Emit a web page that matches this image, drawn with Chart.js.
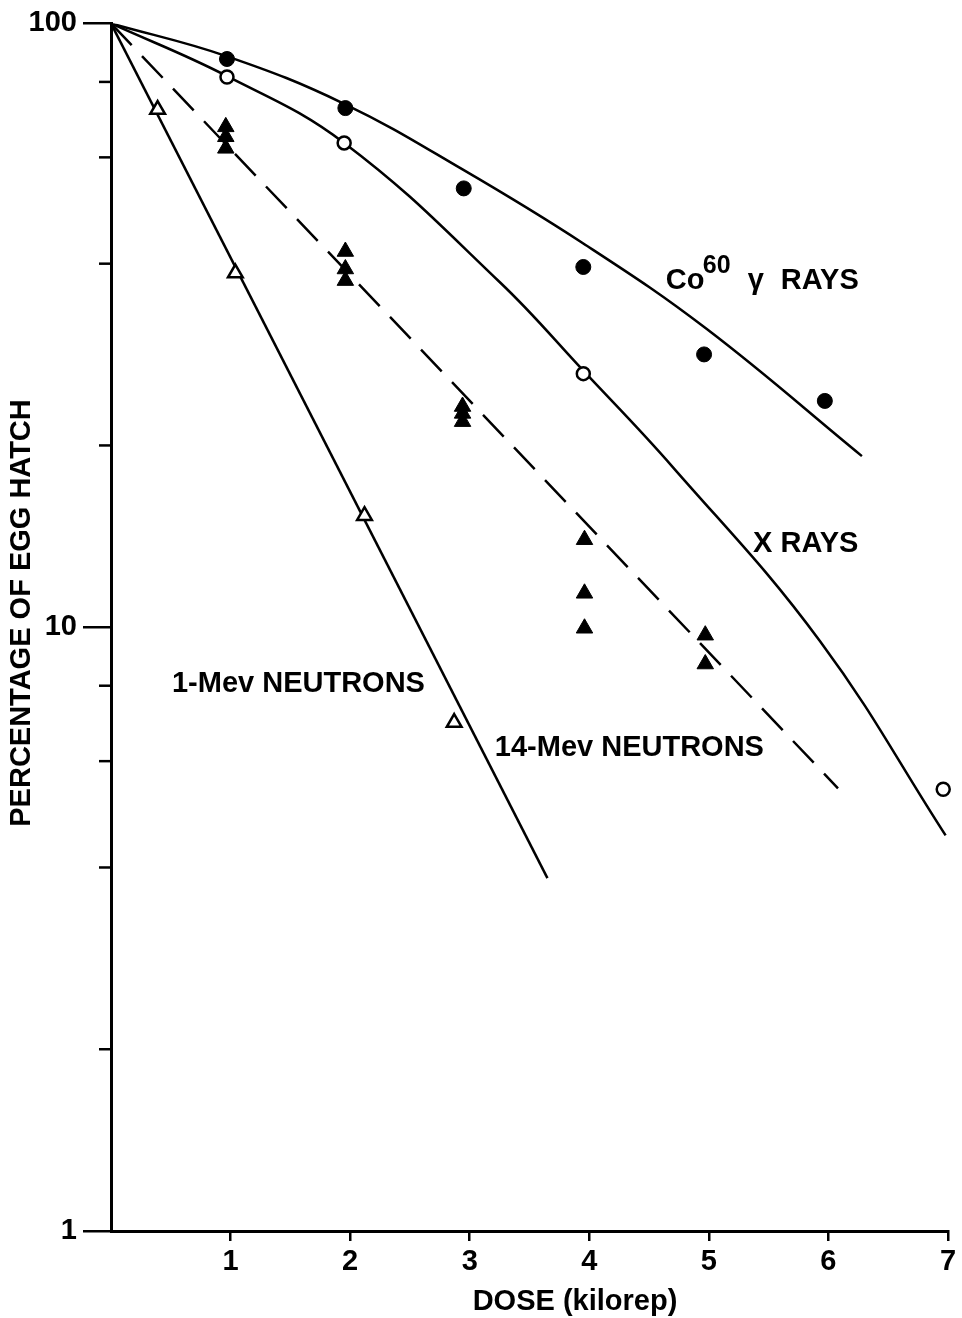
<!DOCTYPE html>
<html>
<head>
<meta charset="utf-8">
<title>Egg hatch against dose</title>
<script src="https://cdn.jsdelivr.net/npm/chart.js@4.4.1/dist/chart.umd.min.js"></script>
<style>
  html, body { margin: 0; padding: 0; background: #fff; }
  canvas { display: block; }
</style>
</head>
<body>
<canvas id="myChart" width="962" height="1318"></canvas>
<script>
// axis ticks
const doseTicks = [1, 2, 3, 4, 5, 6, 7];
const hatchTicks = [1, 10, 100];
const hatchMinorTicks = [2, 4, 6, 8, 20, 40, 60, 80];

// Co60 gamma rays - measured (filled circles) and drawn curve
const coDose = [0.97, 1.96, 2.95, 3.95, 4.96, 5.97];
const coHatch = [87.3, 72.4, 53.3, 39.5, 28.3, 23.7];
const coCurveDose = [0, 0.97, 1.95, 2.94, 3.95, 4.98, 6.28];
const coCurveHatch = [100, 88.2, 73.6, 57.3, 43.2, 31.2, 19.2];

// X rays (open circles)
const xDose = [0.97, 1.95, 3.95, 6.96];
const xHatch = [81.5, 63.4, 26.3, 5.39];
const xCurveDose = [0, 0.97, 1.95, 3.25, 3.95, 4.70, 5.93, 6.98];
const xCurveHatch = [100, 81.8, 63.4, 37.3, 26.6, 18.4, 9.48, 4.52];

// 14-Mev neutrons (filled triangles, dashed line)
const n14Dose = [0.96, 0.96, 0.96, 1.96, 1.96, 1.96, 2.94, 2.94, 2.94, 3.96, 3.96, 3.96, 4.97, 4.97];
const n14Hatch = [67.4, 64.9, 62.1, 41.9, 39.2, 37.5, 23.2, 22.6, 21.9, 13.96, 11.38, 9.96, 9.70, 8.69];
const n14LineDose = [0, 6.08];
const n14LineHatch = [100, 5.41];

// 1-Mev neutrons (open triangles)
const n1Dose = [0.39, 1.04, 2.12, 2.87];
const n1Hatch = [72.0, 38.6, 15.3, 6.95];
const n1LineDose = [0, 3.65];
const n1LineHatch = [100, 3.84];

// curve labels, anchored in data units (left edge, baseline)
const curveLabels = [
    { text: 'X RAYS', dose: 5.37, hatch: 13.3 },
    { text: '1-Mev NEUTRONS', dose: 0.51, hatch: 7.82 },
    { text: '14-Mev NEUTRONS', dose: 3.21, hatch: 6.13 }
];
const coLabel = { dose: 4.64, hatch: 36.3 };

const FONT = '"Liberation Sans", Arial, sans-serif';
const INK = '#000';

const pts = (xs, ys) => xs.map((x, i) => ({ x: x, y: ys[i] }));

// draws the short minor ticks, the curve labels and the axis titles
const figureText = {
    id: 'figureText',
    afterDraw(chart) {
        const ctx = chart.ctx;
        const xs = chart.scales.x;
        const ys = chart.scales.y;
        const left = chart.chartArea.left;
        ctx.save();
        ctx.strokeStyle = INK;
        ctx.lineWidth = 2.5;
        hatchMinorTicks.forEach(v => {
            const py = ys.getPixelForValue(v);
            ctx.beginPath();
            ctx.moveTo(left - 12, py);
            ctx.lineTo(left, py);
            ctx.stroke();
        });

        ctx.fillStyle = INK;
        ctx.textBaseline = 'alphabetic';
        ctx.textAlign = 'left';
        ctx.font = 'bold 29px ' + FONT;
        curveLabels.forEach(l => {
            ctx.fillText(l.text, xs.getPixelForValue(l.dose), ys.getPixelForValue(l.hatch));
        });

        // Co60 gamma RAYS, with superscript
        const cx = xs.getPixelForValue(coLabel.dose);
        const cy = ys.getPixelForValue(coLabel.hatch);
        ctx.fillText('Co', cx, cy);
        ctx.font = 'bold 25px ' + FONT;
        ctx.fillText('60', cx + 37, cy - 16);
        ctx.font = 'bold 29px ' + FONT;
        ctx.fillText('\u03b3', cx + 82, cy);
        ctx.fillText('RAYS', cx + 115, cy);

        // axis titles
        ctx.textAlign = 'center';
        ctx.fillText('DOSE (kilorep)', 575, 1310);
        ctx.translate(22, 613);
        ctx.rotate(-Math.PI / 2);
        ctx.textBaseline = 'middle';
        ctx.fillText('PERCENTAGE OF EGG HATCH', 0, 0);
        ctx.restore();
    }
};

const ctx = document.getElementById('myChart').getContext('2d');
window.myChart = new Chart(ctx, {
    type: 'line',
    data: {
        datasets: [
            {
                label: 'Co60 points',
                data: pts(coDose, coHatch),
                showLine: false,
                clip: false,
                pointStyle: 'circle',
                pointRadius: 7.5,
                pointBackgroundColor: INK,
                pointBorderColor: INK,
                pointBorderWidth: 1,
                order: 1
            },
            {
                label: 'X ray points',
                data: pts(xDose, xHatch),
                showLine: false,
                clip: false,
                pointStyle: 'circle',
                pointRadius: 6.5,
                pointBackgroundColor: '#fff',
                pointBorderColor: INK,
                pointBorderWidth: 2.5,
                order: 1
            },
            {
                label: '14-Mev points',
                data: pts(n14Dose, n14Hatch),
                showLine: false,
                clip: false,
                pointStyle: 'triangle',
                pointRadius: 9.5,
                pointBackgroundColor: INK,
                pointBorderColor: INK,
                pointBorderWidth: 1,
                order: 1
            },
            {
                label: '1-Mev points',
                data: pts(n1Dose, n1Hatch),
                showLine: false,
                clip: false,
                pointStyle: 'triangle',
                pointRadius: 8.5,
                pointBackgroundColor: '#fff',
                pointBorderColor: INK,
                pointBorderWidth: 2.5,
                order: 1
            },
            {
                label: 'Co60 curve',
                data: pts(coCurveDose, coCurveHatch),
                borderColor: INK,
                borderWidth: 2.5,
                pointRadius: 0,
                tension: 0.4,
                order: 2
            },
            {
                label: 'X ray curve',
                data: pts(xCurveDose, xCurveHatch),
                borderColor: INK,
                borderWidth: 2.5,
                pointRadius: 0,
                tension: 0.4,
                order: 2
            },
            {
                label: '14-Mev line',
                data: pts(n14LineDose, n14LineHatch),
                borderColor: INK,
                borderWidth: 2.5,
                borderDash: [30, 15],
                pointRadius: 0,
                order: 2
            },
            {
                label: '1-Mev line',
                data: pts(n1LineDose, n1LineHatch),
                borderColor: INK,
                borderWidth: 2.5,
                pointRadius: 0,
                order: 2
            }
        ]
    },
    options: {
        responsive: false,
        animation: false,
        devicePixelRatio: 1,
        layout: { padding: { top: 17, right: 14, left: 0, bottom: 0 } },
        plugins: {
            legend: { display: false },
            tooltip: { enabled: false }
        },
        scales: {
            x: {
                type: 'linear',
                min: 0,
                max: 7,
                afterBuildTicks: s => { s.ticks = doseTicks.map(v => ({ value: v })); },
                afterFit: s => { s.height = 87; },
                border: { color: INK, width: 3 },
                grid: { drawOnChartArea: false, color: INK, lineWidth: 2.5, tickLength: 10 },
                ticks: {
                    color: INK,
                    font: { family: FONT, size: 29, weight: 'bold' },
                    padding: 4,
                    maxRotation: 0,
                    callback: v => String(v)
                }
            },
            y: {
                type: 'logarithmic',
                min: 1,
                max: 100,
                afterBuildTicks: s => { s.ticks = hatchTicks.map(v => ({ value: v })); },
                afterFit: s => { s.width = 111; },
                border: { color: INK, width: 3 },
                grid: { drawOnChartArea: false, color: INK, lineWidth: 2.5, tickLength: 28 },
                ticks: {
                    color: INK,
                    font: { family: FONT, size: 29, weight: 'bold' },
                    padding: 6,
                    callback: v => String(v)
                }
            }
        }
    },
    plugins: [figureText]
});
</script>
</body>
</html>
